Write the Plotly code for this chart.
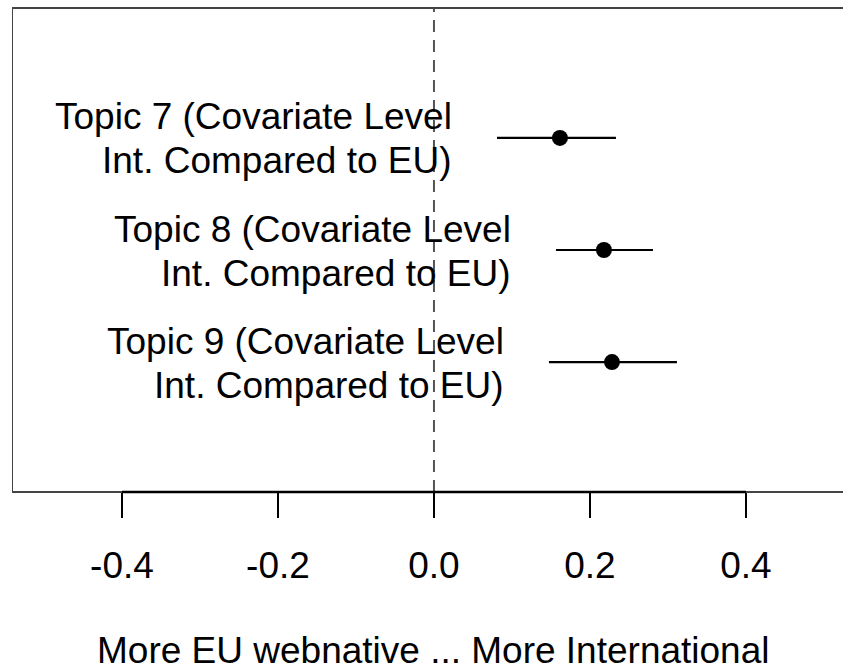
import plotly.graph_objects as go

# Topic-prevalence contrasts (Int. vs EU) with 95% intervals
topics = ["Topic 7", "Topic 8", "Topic 9"]
label_line1 = [
    "Topic 7 (Covariate Level",
    "Topic 8 (Covariate Level",
    "Topic 9 (Covariate Level",
]
label_line2 = [
    "Int. Compared to EU)",
    "Int. Compared to EU)",
    "Int. Compared to EU)",
]
positions = [3, 2, 1]
estimates = [0.1615, 0.2179, 0.2282]
lower = [0.0808, 0.1564, 0.1474]
upper = [0.2333, 0.2808, 0.3115]

tick_vals = [-0.4, -0.2, 0.0, 0.2, 0.4]
tick_text = ["-0.4", "-0.2", "0.0", "0.2", "0.4"]
x_title = "More EU webnative ... More International"

FONT = "Liberation Sans, Arial, sans-serif"
FS = 37

fig = go.Figure()

# confidence-interval segments
for lo, hi, y in zip(lower, upper, positions):
    fig.add_trace(go.Scatter(
        x=[lo, hi], y=[y, y], mode="lines",
        line=dict(color="black", width=2.2),
        hoverinfo="skip", showlegend=False,
    ))

# point estimates
fig.add_trace(go.Scatter(
    x=estimates, y=positions, mode="markers",
    marker=dict(color="black", size=16, line=dict(width=0)),
    showlegend=False,
))

# two-line topic labels, right-aligned just left of each interval
for l1, l2, lo, y in zip(label_line1, label_line2, lower, positions):
    for txt, dy in ((l1, 21), (l2, -23)):
        fig.add_annotation(
            x=lo, y=y, xref="x", yref="y", text=txt,
            xanchor="right", yanchor="middle", align="right",
            xshift=-43, yshift=dy, showarrow=False,
            font=dict(family=FONT, size=FS, color="black"),
        )

# axis title below tick labels
fig.add_annotation(
    x=0, y=-0.3265, xref="x", yref="paper", text=x_title,
    xanchor="center", yanchor="middle", showarrow=False,
    font=dict(family=FONT, size=FS, color="black"),
)

# zero reference line
fig.add_shape(type="line", xref="x", yref="paper", x0=0, x1=0, y0=0, y1=1,
              line=dict(color="#555555", width=2, dash="12px,8px"), layer="below")

# plot frame (right side runs past the page edge)
fig.add_shape(type="rect", xref="x", yref="paper", x0=-0.541, x1=0.54, y0=0, y1=1,
              line=dict(color="#444444", width=2), fillcolor="rgba(0,0,0,0)")

# axis line spanning the tick range
fig.add_shape(type="line", xref="x", yref="paper", x0=tick_vals[0], x1=tick_vals[-1],
              y0=0, y1=0, line=dict(color="black", width=2.5))

fig.update_xaxes(
    range=[-0.541, 0.5244], tickvals=tick_vals, ticktext=tick_text,
    ticks="outside", ticklen=25, tickwidth=2, tickcolor="black",
    ticklabelstandoff=16,
    showgrid=False, zeroline=False, showline=False,
    tickfont=dict(family=FONT, size=FS, color="black"),
)
fig.update_yaxes(
    range=[-0.16, 4.16], showticklabels=False, ticks="",
    showgrid=False, zeroline=False, showline=False,
)

fig.update_layout(
    width=843, height=669,
    margin=dict(l=12, r=0, t=8, b=177),
    plot_bgcolor="white", paper_bgcolor="white",
    showlegend=False,
)

fig.write_html("out.html")
